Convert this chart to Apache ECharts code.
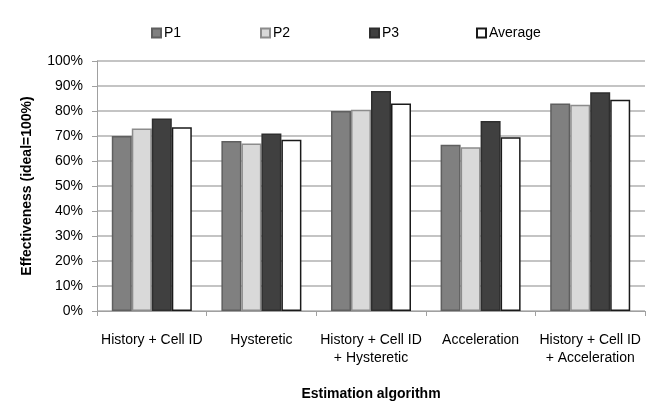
<!DOCTYPE html>
<html><head><meta charset="utf-8">
<script src="https://cdn.jsdelivr.net/npm/echarts@6/dist/echarts.min.js"></script>
<style>html,body{margin:0;padding:0;background:#fff}#c{width:667px;height:416px}</style>
</head><body><div id="c"></div>
<script>
const categories = ["History + Cell ID", "Hysteretic", "History + Cell ID\n+ Hysteretic", "Acceleration", "History + Cell ID\n+ Acceleration"];
const seriesNames = ["P1", "P2", "P3", "Average"];
const p1 = [70, 68, 80, 66.5, 83];
const p2 = [73, 67, 80.5, 65.5, 82.5];
const p3 = [77, 71, 88, 76, 87.5];
const avg = [73.5, 68.5, 83, 69.5, 84.5];
const yTicks = [0, 10, 20, 30, 40, 50, 60, 70, 80, 90, 100];

const fills = ["#808080", "#d9d9d9", "#404040", "#ffffff"];
const borders = ["#5f5f5f", "#8c8c8c", "#2e2e2e", "#1a1a1a"];
const values = [p1, p2, p3, avg];
const font = "Liberation Sans";
const legendLefts = [146, 255, 364, 471];

const chart = echarts.init(document.getElementById('c'), null, {renderer: 'canvas'});
chart.setOption({
  animation: false,
  textStyle: {fontFamily: font},
  legend: seriesNames.map((n, i) => ({
    data: [n], left: legendLefts[i], top: 21, itemWidth: 9, itemHeight: 9, itemGap: 5,
    icon: 'rect', textStyle: {fontFamily: font, fontSize: 14, color: '#000', padding: [0, 0, 0, -2]}
  })),
  grid: {left: 97, right: 22, top: 61, bottom: 105},
  xAxis: {
    type: 'category', data: categories,
    name: 'Estimation algorithm', nameLocation: 'middle', nameGap: 76,
    nameTextStyle: {fontFamily: font, fontSize: 14, fontWeight: 'bold', color: '#000'},
    axisLine: {lineStyle: {color: '#a0a0a0', width: 1}},
    axisTick: {show: true, length: 5, lineStyle: {color: '#a0a0a0'}},
    axisLabel: {fontFamily: font, fontSize: 14, color: '#000', margin: 20, lineHeight: 18, interval: 0, align: 'center'}
  },
  yAxis: {
    type: 'value', min: yTicks[0], max: yTicks[yTicks.length - 1], interval: 10,
    name: 'Effectiveness (ideal=100%)', nameLocation: 'middle', nameGap: 63, nameRotate: 90,
    nameTextStyle: {fontFamily: font, fontSize: 14, fontWeight: 'bold', color: '#000'},
    axisLine: {show: true, lineStyle: {color: '#a0a0a0', width: 1}},
    axisTick: {show: true, length: 5, lineStyle: {color: '#a0a0a0'}},
    axisLabel: {fontFamily: font, fontSize: 14, color: '#000', margin: 14, formatter: v => v + '%'},
    splitLine: {lineStyle: {color: '#b0b0b0', width: 1.5}}
  },
  series: seriesNames.map((n, i) => ({
    name: n, type: 'bar', data: values[i], barWidth: 20, barGap: '0%',
    itemStyle: {color: fills[i], borderColor: borders[i], borderWidth: 1.5}
  }))
});
</script></body></html>
